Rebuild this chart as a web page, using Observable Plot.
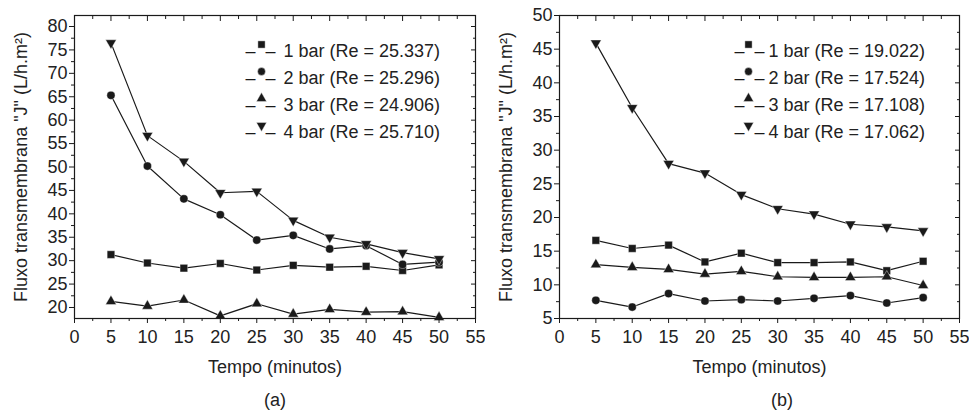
<!DOCTYPE html>
<html>
<head>
<meta charset="utf-8">
<script src="https://cdn.jsdelivr.net/npm/d3@7"></script>
<script src="https://cdn.jsdelivr.net/npm/@observablehq/plot@0.6"></script>
<style>
  body { margin: 0; background: white; }
  #wrap { position: relative; width: 969px; height: 411px; overflow: hidden; font-family: "Liberation Sans", Arial, sans-serif; color: #222; }
  .panel { position: absolute; top: 0; }
  .cap { position: absolute; font-size: 18px; transform: translate(-50%, -50%); top: 400px; }
</style>
</head>
<body>
<div id="wrap">
  <div class="panel" id="pa" style="left:0px"></div>
  <div class="panel" id="pb" style="left:485px"></div>
  <div class="cap" style="left:275px">(a)</div>
  <div class="cap" style="left:782px">(b)</div>
</div>
<script>
// ---- data ----
const tempo = [5, 10, 15, 20, 25, 30, 35, 40, 45, 50];

const a1bar = [31.3, 29.5, 28.4, 29.4, 28.0, 29.0, 28.6, 28.8, 27.9, 29.1];
const a2bar = [65.3, 50.2, 43.2, 39.8, 34.4, 35.4, 32.5, 33.2, 29.2, 29.7];
const a3bar = [21.3, 20.3, 21.6, 18.2, 20.8, 18.6, 19.6, 19.0, 19.1, 17.9];
const a4bar = [76.5, 56.7, 51.2, 44.5, 44.8, 38.6, 35.0, 33.6, 31.7, 30.4];
const aLabels = ["1 bar (Re = 25.337)", "2 bar (Re = 25.296)", "3 bar (Re = 24.906)", "4 bar (Re = 25.710)"];

const b1bar = [16.6, 15.4, 15.9, 13.4, 14.7, 13.3, 13.3, 13.4, 12.1, 13.5];
const b2bar = [7.7, 6.7, 8.7, 7.6, 7.8, 7.6, 8.0, 8.4, 7.3, 8.1];
const b3bar = [13.0, 12.6, 12.3, 11.6, 12.0, 11.2, 11.1, 11.1, 11.2, 9.9];
const b4bar = [45.9, 36.3, 28.0, 26.6, 23.4, 21.3, 20.5, 19.0, 18.6, 18.0];
const bLabels = ["1 bar (Re = 19.022)", "2 bar (Re = 17.524)", "3 bar (Re = 17.108)", "4 bar (Re = 17.062)"];

const xTicks = [0, 5, 10, 15, 20, 25, 30, 35, 40, 45, 50, 55];
const xMinor = [2.5, 7.5, 12.5, 17.5, 22.5, 27.5, 32.5, 37.5, 42.5, 47.5, 52.5];
const aYTicks = [20, 25, 30, 35, 40, 45, 50, 55, 60, 65, 70, 75, 80];
const aYMinor = [22.5, 27.5, 32.5, 37.5, 42.5, 47.5, 52.5, 57.5, 62.5, 67.5, 72.5, 77.5];
const bYTicks = [5, 10, 15, 20, 25, 30, 35, 40, 45, 50];
const bYMinor = [7.5, 12.5, 17.5, 22.5, 27.5, 32.5, 37.5, 42.5, 47.5];

const yLabel = 'Fluxo transmembrana "J" (L/h.m²)';
const xLabel = "Tempo (minutos)";

// ---- symbols ----
const triangleDown = {
  draw(ctx, size) {
    const a = Math.sqrt(4 * size / Math.sqrt(3));
    const h = a * Math.sqrt(3) / 2;
    ctx.moveTo(-a / 2, -h / 3);
    ctx.lineTo(a / 2, -h / 3);
    ctx.lineTo(0, 2 * h / 3);
    ctx.closePath();
  }
};
const symbols = ["square", "circle", "triangle", triangleDown];
const radii = [4.3, 4.1, 4.0, 4.0];

const ink = "#1a1a1a";

function panel(seriesList, labels, yDomain, yTicks, yMinor, legendLineDx, legendMarkerDx, width) {
  const marginLeft = 74, marginTop = 15;
  const marks = [];
  seriesList.forEach((vals, i) => {
    const rows = tempo.map((t, j) => ({t, v: vals[j]}));
    marks.push(Plot.line(rows, {x: "t", y: "v", stroke: ink, strokeWidth: 1.2}));
    marks.push(Plot.dot(rows, {x: "t", y: "v", symbol: symbols[i], r: radii[i], fill: ink, stroke: "white", strokeWidth: 0.4}));
  });
  marks.push(Plot.frame({stroke: ink, strokeWidth: 1.2}));
  // axes
  marks.push(Plot.axisX(xTicks, {anchor: "bottom", tickSize: 5, tickPadding: 7, label: xLabel, labelAnchor: "center", labelOffset: 54, labelArrow: "none", stroke: ink, fill: "#222"}));
  marks.push(Plot.axisX(xMinor, {anchor: "bottom", tickSize: 3, tickFormat: () => "", label: null, stroke: ink}));
  marks.push(Plot.axisX(xTicks, {anchor: "top", tickSize: -5, tickFormat: () => "", label: null, stroke: ink}));
  marks.push(Plot.axisX(xMinor, {anchor: "top", tickSize: -3, tickFormat: () => "", label: null, stroke: ink}));
  marks.push(Plot.axisY(yTicks, {anchor: "left", tickSize: 5, tickPadding: 2, label: yLabel, labelAnchor: "center", labelOffset: 60, labelArrow: "none", stroke: ink, fill: "#222"}));
  marks.push(Plot.axisY(yMinor, {anchor: "left", tickSize: 3, tickFormat: () => "", label: null, stroke: ink}));
  marks.push(Plot.axisY(yTicks, {anchor: "right", tickSize: -5, tickFormat: () => "", label: null, stroke: ink}));
  marks.push(Plot.axisY(yMinor, {anchor: "right", tickSize: -3, tickFormat: () => "", label: null, stroke: ink}));
  // legend: dash – marker – dash, then label
  labels.forEach((lab, i) => {
    const dy = 29 + i * 27;
    marks.push(Plot.text([lab], {frameAnchor: "top-left", dx: legendLineDx - 10, dy, text: () => "–", textAnchor: "middle", fill: ink, fontSize: 18}));
    marks.push(Plot.text([lab], {frameAnchor: "top-left", dx: legendLineDx + 10, dy, text: () => "–", textAnchor: "middle", fill: ink, fontSize: 18}));
    marks.push(Plot.dot([lab], {frameAnchor: "top-left", dx: legendMarkerDx, dy, symbol: symbols[i], r: radii[i] * 0.95, fill: ink, stroke: "white", strokeWidth: 0.4}));
    marks.push(Plot.text([lab], {frameAnchor: "top-left", dx: 209, dy, text: d => d, textAnchor: "start", fill: "#222", fontSize: 18}));
  });

  return Plot.plot({
    width,
    height: 380,
    marginLeft,
    marginRight: 10,
    marginTop,
    marginBottom: 62,
    style: {fontFamily: '"Liberation Sans", Arial, sans-serif', fontSize: "18px", color: "#222", background: "white", overflow: "visible"},
    x: {domain: [0, 55]},
    y: {domain: yDomain},
    marks
  });
}

document.getElementById("pa").append(
  panel([a1bar, a2bar, a3bar, a4bar], aLabels, [17.65, 82.35], aYTicks, aYMinor, 186, 187, 485)
);
document.getElementById("pb").append(
  panel([b1bar, b2bar, b3bar, b4bar], bLabels, [5, 50], bYTicks, bYMinor, 190, 189, 484)
);
</script>
</body>
</html>
